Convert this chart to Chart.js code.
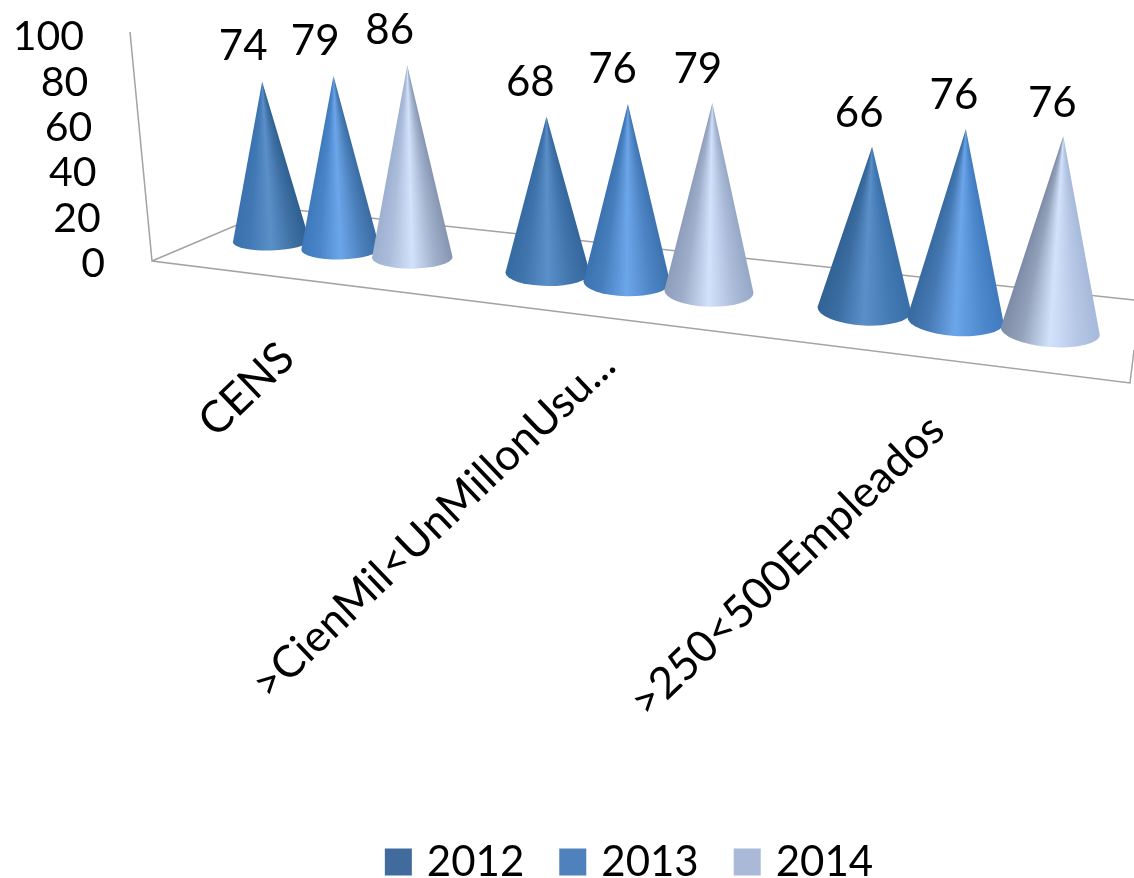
<!DOCTYPE html>
<html>
<head>
<meta charset="utf-8">
<style>html,body{margin:0;padding:0;background:#fff}canvas{display:block}</style>
<script src="https://cdn.jsdelivr.net/npm/chart.js@4"></script>
</head>
<body>
<canvas id="c" width="1134" height="878"></canvas>
<script>
const categories = ['CENS', '>CienMil<UnMillonUsu...', '>250<500Empleados'];
const seriesNames = ['2012', '2013', '2014'];
const values2012 = [74, 68, 66];
const values2013 = [79, 76, 76];
const values2014 = [86, 79, 76];
const yTicks = [0, 20, 40, 60, 80, 100];
const legendColors = ['#416b9c', '#4f81bd', '#a9b9d7'];
// cone shading: [lit centre, normal edge, shadow edge]
const coneShades = {
  '#416b9c': ['#5a8fc8', '#3a72ae', '#2f5f90'],
  '#4f81bd': ['#6ca6ea', '#3f7bbf', '#38699f'],
  '#a9b9d7': ['#d3e2fb', '#a6b9da', '#7d8ba6']
};
const FONT = 'Lato, Carlito, sans-serif';

// projection of the flat bar layout onto the slanted floor
function coneGeom(el, chart) {
  const a = chart.chartArea;
  const u = (el.x - (a.left + 77)) / 824;
  const k = 0.16;
  const sx = 271 + 779.5 * u * (1 - k) / (1 - k * u);
  const n = (sx - 271) / 779.5;
  const cy = el.base - 21 + 0.1155 * (sx - 271);
  const h = (el.base - el.y) * (0.95 + 0.18 * n);
  const rx = el.width * (0.445 + 0.133 * n);
  const ry = Math.min(16, 9.5 + 10 * n);
  const tilt = -0.03 + 0.11 * n;
  const ax = sx - 9 + 22 * n;
  const ay = cy - h;
  return {sx, n, cy, rx, ry, tilt, ax, ay};
}
function mix(a, b, t) {
  const p = s => [1, 3, 5].map(i => parseInt(s.substr(i, 2), 16));
  const A = p(a), B = p(b);
  return '#' + A.map((v, i) => Math.round(v + (B[i] - v) * t).toString(16).padStart(2, '0')).join('');
}
function drawCone(ctx, el, chart) {
  const g = coneGeom(el, chart);
  const col = coneShades[el.options.backgroundColor] || coneShades['#4f81bd'];
  const c = Math.cos(g.tilt), s = Math.sin(g.tilt);
  const rightX = g.sx + g.rx * c, rightY = g.cy + g.rx * s;
  const leftX = g.sx - g.rx * c, leftY = g.cy - g.rx * s;
  const a1 = Math.atan2(rightY - g.ay, rightX - g.ax);
  const a2 = Math.atan2(leftY - g.ay, leftX - g.ax);
  const span = (a2 - a1) / (2 * Math.PI);
  const grad = ctx.createConicGradient(a1, g.ax, g.ay);
  const left = mix(col[1], col[2], Math.min(1, g.n * 1.1));
  const right = mix(col[2], col[1], Math.min(1, g.n * 1.1));
  grad.addColorStop(0, right);
  grad.addColorStop(span * 0.22, mix(right, col[0], 0.35));
  grad.addColorStop(span * 0.5, col[0]);
  grad.addColorStop(span * 0.78, mix(left, col[0], 0.25));
  grad.addColorStop(span, left);
  grad.addColorStop(Math.min(0.99, span + 0.01), left);
  grad.addColorStop(1, right);
  ctx.save();
  ctx.beginPath();
  ctx.moveTo(g.ax, g.ay);
  ctx.lineTo(leftX, leftY);
  ctx.ellipse(g.sx, g.cy, g.rx, g.ry, g.tilt, Math.PI, 0, true);
  ctx.closePath();
  ctx.fillStyle = grad;
  ctx.fill();
  ctx.restore();
}

Chart.registry.getElement('bar').prototype.draw = function () {};

const conePlugin = {
  id: 'cones',
  afterLayout(chart) {
    const yS = chart.scales.y, xS = chart.scales.x, a = chart.chartArea;
    yS.getLabelItems(a).forEach((it, i) => {
      it.options.translation[0] = 105 - 0.21 * yS.ticks[i].value;
      it.options.translation[1] += 2;
    });
    const ends = [[-46, 70], [-51, 77], [-48, 142]];
    xS.getLabelItems(a).forEach((it, i) => {
      it.options.translation[0] = xS.getPixelForTick(i) + ends[i][0];
      it.options.translation[1] = a.bottom + ends[i][1];
    });
    const lg = chart.legend;
    lg.left += 67; lg.right += 67; lg.top += 15; lg.bottom += 15;
  },
  beforeDatasetsDraw(chart) {
    const ctx = chart.ctx, a = chart.chartArea;
    ctx.save();
    ctx.strokeStyle = '#a3a3a3';
    ctx.lineWidth = 1.5;
    ctx.beginPath();
    ctx.moveTo(a.left - 22, a.top - 3);
    ctx.lineTo(a.left, a.bottom - 1);
    ctx.lineTo(a.right, a.bottom + 121);
    ctx.lineTo(a.right + 4, a.bottom + 88);
    ctx.moveTo(a.left, a.bottom - 1);
    ctx.lineTo(a.left + 125, a.bottom - 54);
    ctx.lineTo(a.right + 4, a.bottom + 38);
    ctx.stroke();
    ctx.restore();
  },
  afterDatasetsDraw(chart) {
    const ctx = chart.ctx;
    chart.data.datasets.forEach((d, i) => {
      chart.getDatasetMeta(i).data.forEach(el => drawCone(ctx, el, chart));
    });
    ctx.save();
    ctx.font = '42px ' + FONT;
    ctx.fillStyle = '#000';
    ctx.textAlign = 'center';
    ctx.textBaseline = 'middle';
    chart.data.datasets.forEach((d, i) => {
      chart.getDatasetMeta(i).data.forEach((el, j) => {
        const g = coneGeom(el, chart);
        ctx.fillText(String(d.data[j]), g.ax - 19 + 8 * g.n, g.ay - 35 + 2 * g.n);
      });
    });
    ctx.restore();
  }
};

const allValues = [values2012, values2013, values2014];
new Chart(document.getElementById('c'), {
  type: 'bar',
  data: {
    labels: categories,
    datasets: seriesNames.map((name, i) => ({
      label: name,
      data: allValues[i],
      backgroundColor: legendColors[i],
      borderColor: legendColors[i],
      borderWidth: 12,
      barPercentage: 1,
      categoryPercentage: 0.79
    }))
  },
  plugins: [conePlugin],
  options: {
    responsive: false,
    animation: false,
    events: [],
    layout: {padding: {top: 35, right: 4, left: 0, bottom: 0}},
    plugins: {
      tooltip: {enabled: false},
      legend: {
        position: 'bottom',
        labels: {
          boxWidth: 15, boxHeight: 15, padding: 41, color: '#000',
          font: {family: FONT, size: 42}
        }
      }
    },
    scales: {
      x: {
        grid: {display: false, drawTicks: false},
        border: {display: false},
        afterFit(s) { s.height = s.chart.height - 262 - s.chart.legend.height; },
        ticks: {
          autoSkip: false, minRotation: 43.7, maxRotation: 43.7, color: '#000',
          font: {family: FONT, size: 44}
        }
      },
      y: {
        min: 0, max: 100,
        afterBuildTicks(s) { s.ticks = yTicks.map(v => ({value: v})); },
        afterFit(s) { s.width = 152; },
        grid: {display: false, drawTicks: false},
        border: {display: false},
        ticks: {autoSkip: false, color: '#000', font: {family: FONT, size: 41}}
      }
    }
  }
});
</script>
</body>
</html>
